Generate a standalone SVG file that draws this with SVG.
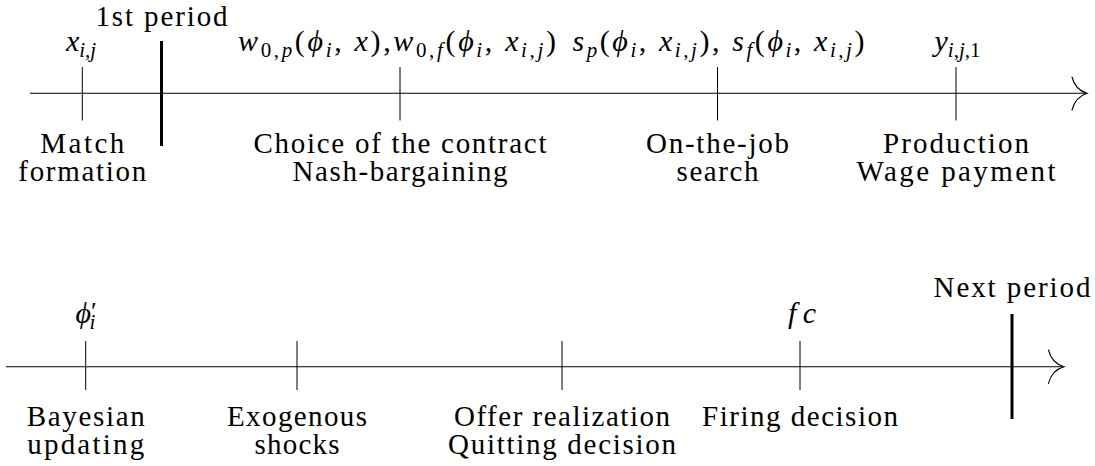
<svg xmlns="http://www.w3.org/2000/svg" width="1095" height="466" viewBox="0 0 1095 466">
<style>
.t{font-family:"Liberation Serif","Times New Roman",serif;font-size:29px;fill:#000;text-anchor:middle}
.m{font-style:italic;font-size:30px}
.u{font-style:normal}
.s{font-size:21px}
.ax{stroke:#000;stroke-width:1.1;fill:none}
.tk{stroke:#000;stroke-width:1}
.bar{stroke:#000;stroke-width:3}
.ah{stroke:#000;stroke-width:1.1;fill:none;stroke-linecap:round}
</style>
<g id="connectors">
<line class="ax" x1="30" y1="93.3" x2="1086" y2="93.3"/>
<path class="ah" d="M1072,77 C1074,85 1079,91 1087,93.3 C1079,96 1074,102 1072,110"/>
<line class="ax" x1="6" y1="366.7" x2="1063" y2="366.7"/>
<path class="ah" d="M1048.5,350 C1050.5,358 1055.5,364.4 1064,366.7 C1055.5,369 1050.5,375.4 1048.5,383.4"/>
</g>
<g id="match">
<line class="tk" x1="82.3" y1="67" x2="82.3" y2="120.5"/>
<text class="t m" x="81" y="51"><tspan>x</tspan><tspan class="s" dy="6">i,j</tspan></text>
<text class="t" x="82.3" y="153" textLength="84">Match</text>
<text class="t" x="82.3" y="181" textLength="128">formation</text>
</g>
<g id="first-period">
<line class="bar" x1="161.5" y1="41" x2="161.5" y2="146"/>
<text class="t" x="161.5" y="26" textLength="132">1st period</text>
</g>
<g id="contract">
<line class="tk" x1="400" y1="67" x2="400" y2="120.5"/>
<text class="t m" x="397" y="51" textLength="318"><tspan>w</tspan><tspan class="s" dy="6"><tspan class="u">0,</tspan>p</tspan><tspan class="u" dy="-6">(</tspan><tspan>ϕ</tspan><tspan class="s" dy="6">i</tspan><tspan class="u" dy="-6">, </tspan><tspan>x</tspan><tspan class="u">),</tspan><tspan>w</tspan><tspan class="s" dy="6"><tspan class="u">0,</tspan>f</tspan><tspan class="u" dy="-6">(</tspan><tspan>ϕ</tspan><tspan class="s" dy="6">i</tspan><tspan class="u" dy="-6">, </tspan><tspan>x</tspan><tspan class="s" dy="6">i,j</tspan><tspan class="u" dy="-6">)</tspan></text>
<text class="t" x="400" y="153" textLength="293">Choice of the contract</text>
<text class="t" x="400" y="181" textLength="215">Nash-bargaining</text>
</g>
<g id="search">
<line class="tk" x1="717.5" y1="67" x2="717.5" y2="120.5"/>
<text class="t m" x="718.5" y="51" textLength="292"><tspan>s</tspan><tspan class="s" dy="6">p</tspan><tspan class="u" dy="-6">(</tspan><tspan>ϕ</tspan><tspan class="s" dy="6">i</tspan><tspan class="u" dy="-6">, </tspan><tspan>x</tspan><tspan class="s" dy="6">i,j</tspan><tspan class="u" dy="-6">), </tspan><tspan>s</tspan><tspan class="s" dy="6">f</tspan><tspan class="u" dy="-6">(</tspan><tspan>ϕ</tspan><tspan class="s" dy="6">i</tspan><tspan class="u" dy="-6">, </tspan><tspan>x</tspan><tspan class="s" dy="6">i,j</tspan><tspan class="u" dy="-6">)</tspan></text>
<text class="t" x="717.5" y="153" textLength="143">On-the-job</text>
<text class="t" x="717.5" y="181" textLength="82">search</text>
</g>
<g id="production">
<line class="tk" x1="956" y1="67" x2="956" y2="120.5"/>
<text class="t m" x="957.5" y="51"><tspan>y</tspan><tspan class="s" dy="6">i,j,<tspan class="u">1</tspan></tspan></text>
<text class="t" x="956" y="153" textLength="146">Production</text>
<text class="t" x="956" y="181" textLength="199">Wage payment</text>
</g>
<g id="bayesian">
<line class="tk" x1="85.7" y1="341" x2="85.7" y2="390"/>
<text class="t m" x="86" y="323"><tspan>ϕ</tspan><tspan class="u" font-size="26" dy="-3">′</tspan><tspan class="s" dx="-7" dy="9">i</tspan></text>
<text class="t" x="85.7" y="426" textLength="118">Bayesian</text>
<text class="t" x="85.7" y="453.5" textLength="117">updating</text>
</g>
<g id="shocks">
<line class="tk" x1="297" y1="341" x2="297" y2="390"/>
<text class="t" x="297" y="426" textLength="140">Exogenous</text>
<text class="t" x="297" y="453.5" textLength="85">shocks</text>
</g>
<g id="offer">
<line class="tk" x1="562" y1="341" x2="562" y2="390"/>
<text class="t" x="562" y="426" textLength="216">Offer realization</text>
<text class="t" x="562" y="453.5" textLength="228">Quitting decision</text>
</g>
<g id="firing">
<line class="tk" x1="800" y1="341" x2="800" y2="390"/>
<text class="t m" x="802" y="323" textLength="28">fc</text>
<text class="t" x="800" y="426" textLength="196">Firing decision</text>
</g>
<g id="next-period">
<line class="bar" x1="1012" y1="314" x2="1012" y2="419"/>
<text class="t" x="1012" y="297" textLength="157">Next period</text>
</g>
</svg>
